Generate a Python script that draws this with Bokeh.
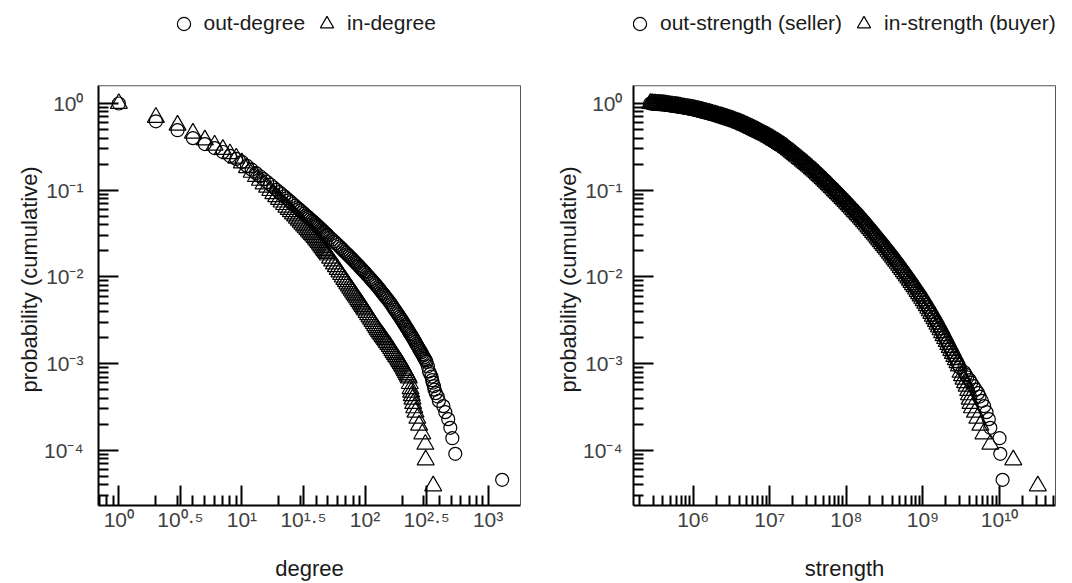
from bokeh.plotting import figure
from bokeh.layouts import row
from bokeh.models import FixedTicker, Legend, LegendItem, Range1d, LogAxis, Span, Title
from bokeh.embed import file_html
from bokeh.resources import INLINE

FONT = "Liberation Sans"

# ---------------- data ----------------
# Left panel: cumulative degree distribution: degree, log10(probability)
out_degree = [1, 2, 3, 4, 5, 6, 7, 8, 9, 10, 11, 12, 13, 14, 15, 16, 17, 18, 19,
              20, 21, 22, 23, 24, 25, 26, 27, 28, 29,
              30, 31, 32, 33, 34, 35, 36, 37, 38, 39,
              40, 41, 42, 43, 44, 45, 46, 47, 48, 49, 50,
              52, 54, 56, 58, 60, 62, 64, 66, 68, 70,
              72, 74, 76, 78, 80, 82, 84, 86, 88, 90,
              92, 94, 96, 98, 100,
              103, 106, 109, 112, 115, 118, 121, 124, 127, 130,
              133, 136, 139, 142, 145, 148, 151,
              155, 159, 163, 167, 171, 175, 179, 183, 187, 191,
              195, 199, 203, 207, 211, 215, 219, 223, 227, 231,
              235, 239, 243, 247, 251,
              256, 261, 266, 271, 276, 281, 286, 291, 296, 301,
              306, 311, 316,
              324, 331, 339, 347, 351, 355, 363, 367, 376, 389, 398, 433, 449, 474, 493, 512, 541, 1300]
out_degree_logp = [0.0, -0.205, -0.308, -0.400, -0.468, -0.514, -0.559, -0.605, -0.639, -0.674,
                   -0.720, -0.763, -0.803, -0.839, -0.873, -0.905, -0.936, -0.966, -0.995,
                   -1.021, -1.046, -1.070, -1.094, -1.116, -1.138, -1.159, -1.179, -1.199, -1.218,
                   -1.236, -1.254, -1.271, -1.289, -1.304, -1.320, -1.335, -1.350, -1.365, -1.379,
                   -1.393, -1.408, -1.421, -1.435, -1.448, -1.462, -1.475, -1.487, -1.499, -1.512, -1.524,
                   -1.547, -1.568, -1.590, -1.610, -1.630, -1.649, -1.668, -1.688, -1.706, -1.723,
                   -1.740, -1.757, -1.773, -1.789, -1.805, -1.821, -1.836, -1.851, -1.866, -1.881,
                   -1.896, -1.910, -1.923, -1.937, -1.950,
                   -1.971, -1.990, -2.009, -2.028, -2.048, -2.065, -2.083, -2.099, -2.117, -2.135,
                   -2.153, -2.171, -2.187, -2.204, -2.220, -2.236, -2.252,
                   -2.272, -2.292, -2.315, -2.338, -2.359, -2.380, -2.401, -2.420, -2.441, -2.460,
                   -2.479, -2.498, -2.516, -2.537, -2.555, -2.574, -2.592, -2.610, -2.629, -2.647,
                   -2.663, -2.679, -2.698, -2.714, -2.730,
                   -2.750, -2.773, -2.793, -2.813, -2.833, -2.853, -2.870, -2.890, -2.908, -2.928,
                   -2.945, -2.963, -2.980,
                   -3.03, -3.09, -3.12, -3.15, -3.19, -3.22, -3.26, -3.30, -3.34, -3.38, -3.43, -3.49,
                   -3.56, -3.64, -3.74, -3.86, -4.04, -4.34]

in_degree = [1, 2, 3, 4, 5, 6, 7, 8, 9, 10, 11, 12, 13, 14, 15, 16, 17, 18, 19,
             20, 21, 22, 23, 24, 25, 26, 27, 28, 29,
             30, 31, 32, 33, 34, 35, 36, 37, 38, 39,
             40, 41, 42, 43, 44, 45, 46, 47, 48, 49, 50,
             52, 54, 56, 58, 60, 62, 64, 66, 68, 70,
             72, 74, 76, 78, 80, 82, 84, 86, 88, 90,
             92, 94, 96, 98, 100,
             103, 106, 109, 112, 115, 118, 121, 124, 127, 130,
             133, 136, 139, 142, 145, 148, 151,
             155, 159, 163, 167, 171, 175, 179, 183, 187, 191,
             195, 199, 203, 207, 211, 215, 219, 223, 227,
             231, 234, 237, 240, 243, 246, 251, 257, 266, 275, 292, 309, 311, 358]
in_degree_logp = [0.0, -0.16, -0.25, -0.342, -0.42, -0.48, -0.53, -0.58, -0.63, -0.685,
                  -0.741, -0.794, -0.842, -0.886, -0.927, -0.966, -1.004, -1.040, -1.075,
                  -1.106, -1.137, -1.166, -1.195, -1.221, -1.247, -1.273, -1.298, -1.323, -1.346,
                  -1.369, -1.391, -1.413, -1.434, -1.453, -1.473, -1.492, -1.510, -1.529, -1.546,
                  -1.564, -1.585, -1.604, -1.623, -1.642, -1.661, -1.680, -1.697, -1.714, -1.731, -1.748,
                  -1.784, -1.817, -1.851, -1.882, -1.914, -1.943, -1.973, -2.002, -2.029, -2.055,
                  -2.080, -2.105, -2.130, -2.153, -2.176, -2.199, -2.220, -2.241, -2.262, -2.283,
                  -2.304, -2.323, -2.342, -2.361, -2.380,
                  -2.409, -2.435, -2.461, -2.488, -2.514, -2.538, -2.563, -2.585, -2.608, -2.628,
                  -2.648, -2.668, -2.686, -2.704, -2.722, -2.740, -2.758,
                  -2.780, -2.802, -2.826, -2.851, -2.873, -2.895, -2.917, -2.936, -2.958, -2.978,
                  -2.998, -3.018, -3.038, -3.062, -3.082, -3.103, -3.124, -3.145, -3.166,
                  -3.23, -3.29, -3.33, -3.37, -3.41, -3.46, -3.51, -3.56, -3.63, -3.71, -3.81,
                  -3.93, -4.11, -4.41]

# Right panel: cumulative strength distribution: log10(strength), log10(probability)
out_strength_log = [5.44, 5.46, 5.48, 5.50, 5.52, 5.54, 5.56, 5.58, 5.60, 5.62,
                    5.64, 5.66, 5.68, 5.70, 5.72, 5.74, 5.76, 5.78, 5.80, 5.82,
                    5.84, 5.86, 5.88, 5.90, 5.92, 5.94, 5.96, 5.98, 6.00, 6.02,
                    6.04, 6.06, 6.08, 6.10, 6.12, 6.14, 6.16, 6.18, 6.20, 6.22,
                    6.24, 6.26, 6.28, 6.30, 6.32, 6.34, 6.36, 6.38, 6.40, 6.42,
                    6.44, 6.46, 6.48, 6.50, 6.52, 6.54, 6.56, 6.58, 6.60, 6.62,
                    6.64, 6.66, 6.68, 6.70, 6.72, 6.74, 6.76, 6.78, 6.80, 6.82,
                    6.84, 6.86, 6.88, 6.90, 6.92, 6.94, 6.96, 6.98, 7.00, 7.02,
                    7.04, 7.06, 7.08, 7.10, 7.12, 7.14, 7.16, 7.18, 7.20, 7.22,
                    7.24, 7.26, 7.28, 7.30, 7.32, 7.34, 7.36, 7.38, 7.40, 7.42,
                    7.44, 7.46, 7.48, 7.50, 7.52, 7.54, 7.56, 7.58, 7.60, 7.62,
                    7.64, 7.66, 7.68, 7.70, 7.72, 7.74, 7.76, 7.78, 7.80, 7.82,
                    7.84, 7.86, 7.88, 7.90, 7.92, 7.94, 7.96, 7.98, 8.00, 8.02,
                    8.04, 8.06, 8.08, 8.10, 8.12, 8.14, 8.16, 8.18, 8.20, 8.22,
                    8.24, 8.26, 8.28, 8.30, 8.32, 8.34, 8.36, 8.38, 8.40, 8.42,
                    8.44, 8.46, 8.48, 8.50, 8.52, 8.54, 8.56, 8.58, 8.60, 8.62,
                    8.64, 8.66, 8.68, 8.70, 8.72, 8.74, 8.76, 8.78, 8.80, 8.82,
                    8.84, 8.86, 8.88, 8.90, 8.92, 8.94, 8.96, 8.98, 9.00, 9.02,
                    9.04, 9.06, 9.08, 9.10, 9.12, 9.14, 9.16, 9.18, 9.20, 9.22,
                    9.24, 9.26, 9.28, 9.30, 9.32, 9.34, 9.36, 9.38, 9.40, 9.42,
                    9.44, 9.46, 9.48,
                    9.54, 9.56, 9.58, 9.61, 9.63, 9.66, 9.69, 9.72, 9.74, 9.77,
                    9.80, 9.83, 9.86, 9.88, 10.00, 10.01, 10.04]
out_strength_logp = [0.000, -0.001, -0.003, -0.004, -0.005, -0.006, -0.008, -0.009, -0.010, -0.012,
                     -0.015, -0.017, -0.020, -0.022, -0.025, -0.027, -0.030, -0.032, -0.035, -0.038,
                     -0.041, -0.044, -0.047, -0.050, -0.053, -0.056, -0.059, -0.062, -0.065, -0.069,
                     -0.074, -0.078, -0.083, -0.087, -0.092, -0.096, -0.101, -0.105, -0.110, -0.115,
                     -0.120, -0.124, -0.129, -0.134, -0.139, -0.144, -0.150, -0.155, -0.160, -0.166,
                     -0.172, -0.177, -0.183, -0.189, -0.195, -0.201, -0.208, -0.214, -0.220, -0.228,
                     -0.235, -0.243, -0.250, -0.258, -0.266, -0.275, -0.283, -0.292, -0.300, -0.309,
                     -0.318, -0.326, -0.335, -0.344, -0.353, -0.362, -0.372, -0.381, -0.390, -0.401,
                     -0.411, -0.422, -0.432, -0.443, -0.454, -0.466, -0.477, -0.489, -0.500, -0.514,
                     -0.527, -0.541, -0.554, -0.568, -0.582, -0.597, -0.611, -0.626, -0.640, -0.655,
                     -0.669, -0.684, -0.698, -0.713, -0.728, -0.744, -0.759, -0.775, -0.790, -0.807,
                     -0.823, -0.840, -0.856, -0.873, -0.890, -0.908, -0.925, -0.943, -0.960, -0.978,
                     -0.996, -1.013, -1.031, -1.049, -1.067, -1.086, -1.104, -1.122, -1.140, -1.159,
                     -1.178, -1.196, -1.215, -1.234, -1.253, -1.272, -1.292, -1.311, -1.330, -1.351,
                     -1.371, -1.392, -1.412, -1.433, -1.454, -1.476, -1.497, -1.519, -1.540, -1.562,
                     -1.584, -1.605, -1.627, -1.649, -1.671, -1.693, -1.716, -1.738, -1.760, -1.784,
                     -1.807, -1.831, -1.854, -1.878, -1.902, -1.927, -1.951, -1.976, -2.000, -2.025,
                     -2.051, -2.076, -2.102, -2.127, -2.154, -2.180, -2.207, -2.233, -2.260, -2.289,
                     -2.318, -2.347, -2.376, -2.405, -2.436, -2.467, -2.498, -2.529, -2.560, -2.594,
                     -2.627, -2.661, -2.694, -2.728, -2.762, -2.797, -2.831, -2.866, -2.900, -2.936,
                     -2.972, -3.008, -3.044,
                     -3.10, -3.13, -3.16, -3.19, -3.22, -3.26, -3.30, -3.34, -3.38, -3.43,
                     -3.49, -3.56, -3.64, -3.74, -3.86, -4.04, -4.34]

in_strength_log = [5.44, 5.45, 5.47, 5.49, 5.51, 5.53, 5.55, 5.57, 5.59, 5.61,
                   5.63, 5.65, 5.67, 5.69, 5.71, 5.73, 5.75, 5.77, 5.79, 5.81,
                   5.83, 5.85, 5.87, 5.89, 5.91, 5.93, 5.95, 5.97, 5.99, 6.01,
                   6.03, 6.05, 6.07, 6.09, 6.11, 6.13, 6.15, 6.17, 6.19, 6.21,
                   6.23, 6.25, 6.27, 6.29, 6.31, 6.33, 6.35, 6.37, 6.39, 6.41,
                   6.43, 6.45, 6.47, 6.49, 6.51, 6.53, 6.55, 6.57, 6.59, 6.61,
                   6.63, 6.65, 6.67, 6.69, 6.71, 6.73, 6.75, 6.77, 6.79, 6.81,
                   6.83, 6.85, 6.87, 6.89, 6.91, 6.93, 6.95, 6.97, 6.99, 7.01,
                   7.03, 7.05, 7.07, 7.09, 7.11, 7.13, 7.15, 7.17, 7.19, 7.21,
                   7.23, 7.25, 7.27, 7.29, 7.31, 7.33, 7.35, 7.37, 7.39, 7.41,
                   7.43, 7.45, 7.47, 7.49, 7.51, 7.53, 7.55, 7.57, 7.59, 7.61,
                   7.63, 7.65, 7.67, 7.69, 7.71, 7.73, 7.75, 7.77, 7.79, 7.81,
                   7.83, 7.85, 7.87, 7.89, 7.91, 7.93, 7.95, 7.97, 7.99, 8.01,
                   8.03, 8.05, 8.07, 8.09, 8.11, 8.13, 8.15, 8.17, 8.19, 8.21,
                   8.23, 8.25, 8.27, 8.29, 8.31, 8.33, 8.35, 8.37, 8.39, 8.41,
                   8.43, 8.45, 8.47, 8.49, 8.51, 8.53, 8.55, 8.57, 8.59, 8.61,
                   8.63, 8.65, 8.67, 8.69, 8.71, 8.73, 8.75, 8.77, 8.79, 8.81,
                   8.83, 8.85, 8.87, 8.89, 8.91, 8.93, 8.95, 8.97, 8.99, 9.01,
                   9.03, 9.05, 9.07, 9.09, 9.11, 9.13, 9.15, 9.17, 9.19, 9.21,
                   9.23, 9.25, 9.27, 9.29, 9.31, 9.33, 9.35, 9.37, 9.39, 9.41,
                   9.43, 9.45, 9.47,
                   9.49, 9.51, 9.53, 9.55, 9.57, 9.59, 9.60, 9.61, 9.62, 9.64,
                   9.68, 9.71, 9.75, 9.79, 9.88, 10.18, 10.50]
in_strength_logp = [0.000, -0.001, -0.002, -0.003, -0.005, -0.006, -0.007, -0.008, -0.009, -0.011,
                    -0.014, -0.016, -0.018, -0.021, -0.023, -0.026, -0.029, -0.031, -0.034, -0.037,
                    -0.040, -0.043, -0.046, -0.049, -0.052, -0.055, -0.058, -0.061, -0.064, -0.067,
                    -0.072, -0.076, -0.080, -0.085, -0.089, -0.094, -0.099, -0.103, -0.108, -0.112,
                    -0.117, -0.122, -0.127, -0.132, -0.137, -0.142, -0.147, -0.152, -0.157, -0.163,
                    -0.169, -0.175, -0.180, -0.186, -0.192, -0.198, -0.205, -0.211, -0.217, -0.224,
                    -0.231, -0.239, -0.247, -0.254, -0.262, -0.271, -0.279, -0.287, -0.296, -0.304,
                    -0.313, -0.322, -0.331, -0.340, -0.349, -0.358, -0.367, -0.376, -0.385, -0.395,
                    -0.406, -0.417, -0.427, -0.438, -0.449, -0.460, -0.472, -0.483, -0.494, -0.507,
                    -0.520, -0.534, -0.548, -0.561, -0.575, -0.590, -0.604, -0.618, -0.633, -0.647,
                    -0.662, -0.677, -0.691, -0.706, -0.721, -0.736, -0.752, -0.767, -0.782, -0.798,
                    -0.815, -0.832, -0.848, -0.865, -0.882, -0.899, -0.917, -0.934, -0.951, -0.969,
                    -0.987, -1.005, -1.022, -1.040, -1.058, -1.076, -1.095, -1.113, -1.131, -1.149,
                    -1.168, -1.187, -1.206, -1.225, -1.244, -1.263, -1.282, -1.301, -1.320, -1.340,
                    -1.361, -1.382, -1.402, -1.423, -1.444, -1.465, -1.487, -1.508, -1.529, -1.551,
                    -1.573, -1.595, -1.616, -1.638, -1.660, -1.682, -1.705, -1.727, -1.749, -1.772,
                    -1.795, -1.819, -1.843, -1.866, -1.890, -1.915, -1.939, -1.963, -1.988, -2.013,
                    -2.038, -2.064, -2.089, -2.114, -2.140, -2.167, -2.194, -2.220, -2.247, -2.275,
                    -2.304, -2.333, -2.362, -2.391, -2.421, -2.452, -2.483, -2.514, -2.545, -2.577,
                    -2.610, -2.644, -2.678, -2.711, -2.745, -2.780, -2.814, -2.848, -2.883, -2.918,
                    -2.954, -2.990, -3.026,
                    -3.10, -3.14, -3.18, -3.22, -3.26, -3.31, -3.36, -3.41, -3.46, -3.51,
                    -3.56, -3.63, -3.71, -3.81, -3.93, -4.11, -4.41]

# axis ticks and labels
y_ticks = [1e-4, 1e-3, 1e-2, 1e-1, 1.0]
y_tick_labels = ["10\u207b\u2074", "10\u207b\u00b3", "10\u207b\u00b2", "10\u207b\u00b9", "10\u2070"]
left_x_ticks = [1.0, 10 ** 0.5, 10.0, 10 ** 1.5, 100.0, 10 ** 2.5, 1000.0]
left_x_tick_labels = ["10\u2070", "10\u2070\u00b7\u2075", "10\u00b9", "10\u00b9\u00b7\u2075",
                      "10\u00b2", "10\u00b2\u00b7\u2075", "10\u00b3"]
right_x_ticks = [1e6, 1e7, 1e8, 1e9, 1e10]
right_x_tick_labels = ["10\u2076", "10\u2077", "10\u2078", "10\u2079", "10\u00b9\u2070"]

y_title = "probability (cumulative)"
legend_left = ["out-degree", "in-degree"]
legend_right = ["out-strength (seller)", "in-strength (buyer)"]

for a, b in [(out_degree, out_degree_logp), (in_degree, in_degree_logp),
             (out_strength_log, out_strength_logp), (in_strength_log, in_strength_logp)]:
    assert len(a) == len(b), (len(a), len(b))

# y extent of the plotting box; the area above it (legend row) is part of the frame
Y_LO, Y_HI = 10 ** -4.636, 10 ** 0.205
Y_TOP = 10 ** 1.188
BOX = "#555555"


def minor_ticks(lo, hi):
    out = []
    for e in range(-6, 12):
        for k in range(2, 10):
            v = k * 10.0 ** e
            if lo < v < hi:
                out.append(v)
    return out


def style_axis(ax, ticks, labels, lo, hi, label_standoff):
    ax.ticker = FixedTicker(ticks=ticks, minor_ticks=minor_ticks(lo, hi))
    ax.major_label_overrides = {t: s for t, s in zip(ticks, labels)}
    ax.axis_line_width = 2
    ax.axis_line_color = "black"
    ax.major_tick_in = 20
    ax.major_tick_out = 0
    ax.major_tick_line_width = 2
    ax.major_tick_line_color = "black"
    ax.minor_tick_in = 10
    ax.minor_tick_out = 0
    ax.minor_tick_line_width = 2
    ax.minor_tick_line_color = "black"
    ax.major_label_text_font = FONT
    ax.major_label_text_font_size = "21px"
    ax.major_label_text_color = "#404040"
    ax.major_label_standoff = label_standoff
    ax.axis_label_text_font = FONT
    ax.axis_label_text_font_size = "22px"
    ax.axis_label_text_font_style = "normal"
    ax.axis_label_text_color = "#1a1a1a"


def make_panel(width, bl, br, x_lo, x_hi, xs1, ys1, xs2, ys2, xlabel, xticks, xlabels,
               legend_labels, legend_x, ylab_standoff):
    p = figure(width=width, height=583, x_axis_type="log", y_axis_type="log",
               x_range=Range1d(x_lo, x_hi), y_range=Range1d(Y_LO, Y_TOP),
               output_backend="svg", toolbar_location=None,
               min_border_left=bl, min_border_right=br, min_border_top=0, min_border_bottom=73)
    p.grid.visible = False
    p.outline_line_color = None
    p.background_fill_color = "white"
    p.border_fill_color = "white"

    r1 = p.scatter(xs1, ys1, marker="circle", size=13, fill_color=None,
                   line_color="black", line_width=1.2)
    r2 = p.scatter(xs2, ys2, marker="triangle", size=17, fill_color=None,
                   line_color="black", line_width=1.2)

    style_axis(p.xaxis[0], xticks, xlabels, x_lo, x_hi, 2)
    style_axis(p.yaxis[0], y_ticks, y_tick_labels, Y_LO, Y_HI, ylab_standoff)
    p.yaxis[0].bounds = (Y_LO, Y_HI)
    p.xaxis[0].axis_label = xlabel
    p.xaxis[0].axis_label_standoff = 22

    # y title, centred on the plotting box (not on the legend row)
    p.add_layout(Title(text=y_title, align="left", offset=113, standoff=0,
                       text_font=FONT, text_font_size="22px", text_font_style="normal",
                       text_color="#1a1a1a"), "left")

    # thin top and right sides of the plotting box
    p.add_layout(Span(location=Y_HI, dimension="width", line_color=BOX, line_width=1))
    rax = LogAxis(ticker=FixedTicker(ticks=[]), bounds=(Y_LO, Y_HI),
                  axis_line_color=BOX, axis_line_width=1,
                  major_tick_line_color=None, minor_tick_line_color=None)
    p.add_layout(rax, "right")

    leg = Legend(items=[LegendItem(label=legend_labels[0], renderers=[r1]),
                        LegendItem(label=legend_labels[1], renderers=[r2])],
                 orientation="horizontal", location=(legend_x, 465.5),
                 glyph_width=33, glyph_height=33, label_standoff=4, spacing=5,
                 padding=0, margin=0, border_line_alpha=0, background_fill_alpha=0,
                 label_text_font=FONT, label_text_font_size="21px",
                 label_text_color="#1a1a1a")
    p.add_layout(leg)
    return p


left = make_panel(540, 98, 20, 10 ** -0.165, 10 ** 3.263,
                  out_degree, [10 ** v for v in out_degree_logp],
                  in_degree, [10 ** v for v in in_degree_logp],
                  "degree", left_x_ticks, left_x_tick_labels, legend_left, 68.5, 15)

right = make_panel(532, 93, 17, 10 ** 5.221, 10 ** 10.731,
                   [10 ** v for v in out_strength_log], [10 ** v for v in out_strength_logp],
                   [10 ** v for v in in_strength_log], [10 ** v for v in in_strength_logp],
                   "strength", right_x_ticks, right_x_tick_labels, legend_right, -10, 11)

layout = row(left, right)
open("out.html", "w").write(file_html(layout, INLINE))
